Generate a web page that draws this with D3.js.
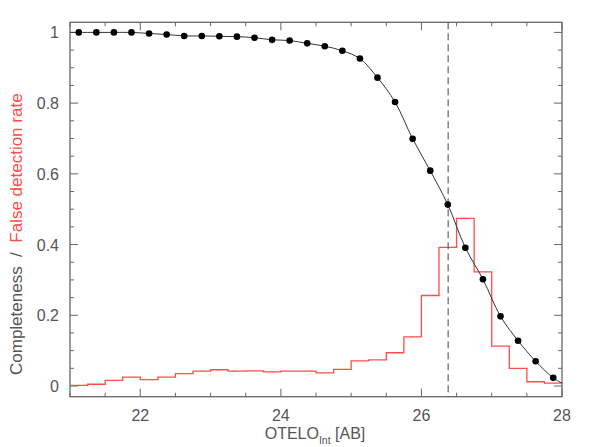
<!DOCTYPE html>
<html><head><meta charset="utf-8">
<script src="https://cdn.jsdelivr.net/npm/d3@7"></script>
<style>body{margin:0;background:#fff}svg{display:block}text{font-family:"Liberation Sans",Arial,sans-serif}</style>
</head><body><svg id="c" width="598" height="447"></svg>
<script>
// Completeness points (bin centres)
const magCenters = [21.125,21.375,21.625,21.875,22.125,22.375,22.625,22.875,23.125,23.375,23.625,23.875,24.125,24.375,24.625,24.875,25.125,25.375,25.625,25.875,26.125,26.375,26.625,26.875,27.125,27.375,27.625,27.875];
const completeness = [1.0,1.0,1.0,1.0,0.997,0.994,0.990,0.990,0.989,0.988,0.985,0.979,0.977,0.969,0.961,0.948,0.926,0.872,0.803,0.699,0.609,0.513,0.391,0.302,0.197,0.128,0.070,0.023];
// smooth fit curve end values at plot edges
const fitEnds = [[21.0,1.0],[28.0,0.008]];
// False detection rate histogram (bin starts, width 0.25)
const binStarts = [21.0,21.25,21.5,21.75,22.0,22.25,22.5,22.75,23.0,23.25,23.5,23.75,24.0,24.25,24.5,24.75,25.0,25.25,25.5,25.75,26.0,26.25,26.5,26.75,27.0,27.25,27.5,27.75];
const falseRate = [0.002,0.005,0.016,0.025,0.018,0.025,0.035,0.042,0.046,0.042,0.043,0.040,0.042,0.042,0.037,0.047,0.071,0.074,0.094,0.139,0.256,0.392,0.474,0.323,0.113,0.050,0.012,0.008];
const binWidth = 0.25;
const limitMag = 26.38;
const xTicks = [22,24,26,28];
const yTicks = [0,0.2,0.4,0.6,0.8,1];

const svg = d3.select("#c");
const L=70, R=562, T=22.3, B=396.7;
const x = d3.scaleLinear().domain([21,28]).range([L,R]);
const y = d3.scaleLinear().domain([0,1]).range([386,32.4]);
const axisCol = "#666", textCol="#555", red="#ff4c4c";

// frame
svg.append("rect").attr("x",L).attr("y",T).attr("width",R-L).attr("height",B-T)
  .attr("fill","none").attr("stroke",axisCol).attr("stroke-width",1.3);

// ticks
const g = svg.append("g").attr("stroke",axisCol).attr("stroke-width",1);
d3.range(21,28.001,0.5).forEach(v=>{
  const major = Math.abs(v-Math.round(v/2)*2)<1e-6;
  const len = major?8:4;
  g.append("line").attr("x1",x(v)).attr("x2",x(v)).attr("y1",B).attr("y2",B-len);
  g.append("line").attr("x1",x(v)).attr("x2",x(v)).attr("y1",T).attr("y2",T+len);
});
d3.range(0,1.0001,0.05).forEach(v=>{
  const major = Math.abs(v*5-Math.round(v*5))<1e-6;
  const len = major?8:4;
  g.append("line").attr("y1",y(v)).attr("y2",y(v)).attr("x1",L).attr("x2",L+len);
  g.append("line").attr("y1",y(v)).attr("y2",y(v)).attr("x1",R).attr("x2",R-len);
});

// tick labels
svg.append("g").selectAll("text").data(xTicks).join("text")
  .attr("x",d=>x(d)).attr("y",421).attr("text-anchor","middle")
  .attr("font-size",16).attr("fill",textCol).text(d=>d);
svg.append("g").selectAll("text").data(yTicks).join("text")
  .attr("x",59).attr("y",d=>y(d)+6).attr("text-anchor","end")
  .attr("font-size",16).attr("fill",textCol).text(d=>d);

// axis titles
const xt = svg.append("text").attr("x",315).attr("y",439).attr("text-anchor","middle")
  .attr("font-size",16).attr("fill",textCol);
xt.append("tspan").text("OTELO");
xt.append("tspan").attr("font-size",10.5).attr("dy",5).text("Int");
xt.append("tspan").attr("dy",-5).text(" [AB]");

const yt = svg.append("text").attr("transform","translate(21.5,375) rotate(-90)")
  .attr("text-anchor","start").attr("font-size",17).attr("xml:space","preserve");
yt.append("tspan").attr("fill",textCol).text("Completeness  /  ");
yt.append("tspan").attr("fill",red).text("False detection rate");

// histogram
const steps = [];
binStarts.forEach((s,i)=>{steps.push([s,falseRate[i]]);steps.push([s+binWidth,falseRate[i]]);});
svg.append("path").datum(steps)
  .attr("d",d3.line().x(d=>x(d[0])).y(d=>y(d[1])))
  .attr("fill","none").attr("stroke",red).attr("stroke-width",1.3);

// limit line
svg.append("line").attr("x1",x(limitMag)).attr("x2",x(limitMag)).attr("y1",T).attr("y2",B)
  .attr("stroke","#444").attr("stroke-width",1).attr("stroke-dasharray","7,4");

// completeness curve
const pts = magCenters.map((m,i)=>[m,completeness[i]]);
const curvePts = [fitEnds[0],...pts,fitEnds[1]];
svg.append("path").datum(curvePts)
  .attr("d",d3.line().x(d=>x(d[0])).y(d=>y(d[1])).curve(d3.curveCatmullRom.alpha(0.5)))
  .attr("fill","none").attr("stroke","#333").attr("stroke-width",1);
svg.append("g").selectAll("circle").data(pts).join("circle")
  .attr("cx",d=>x(d[0])).attr("cy",d=>y(d[1])).attr("r",3.3).attr("fill","#000");
</script></body></html>
